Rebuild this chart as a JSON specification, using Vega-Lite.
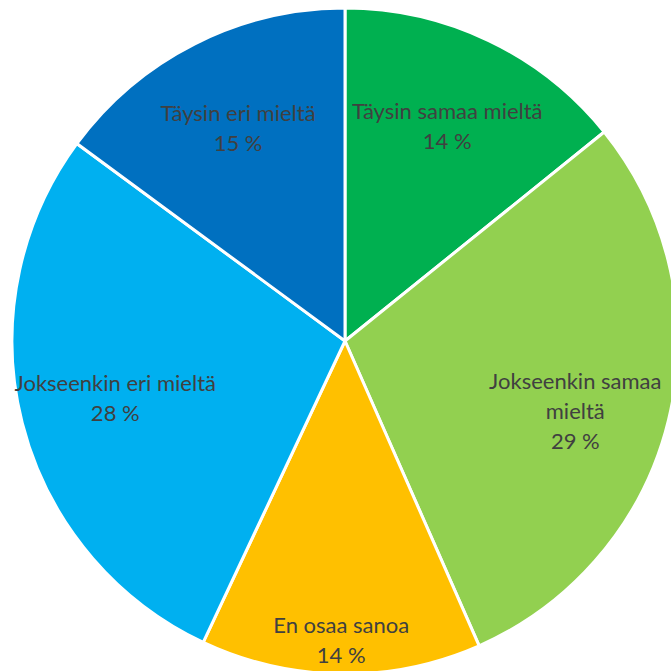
{
  "$schema": "https://vega.github.io/schema/vega-lite/v6.json",
  "width": 652,
  "height": 660,
  "autosize": "none",
  "padding": {"left": 19, "top": 11, "right": 0, "bottom": 0},
  "background": "white",
  "view": {"stroke": null},
  "data": {
    "values": [
      {"order": 1, "category": "Täysin samaa mieltä", "value": 14.2},
      {"order": 2, "category": "Jokseenkin samaa mieltä", "value": 29.2},
      {"order": 3, "category": "En osaa sanoa", "value": 13.6},
      {"order": 4, "category": "Jokseenkin eri mieltä", "value": 28.1},
      {"order": 5, "category": "Täysin eri mieltä", "value": 14.9}
    ]
  },
  "transform": [
    {"stack": "value", "groupby": [], "sort": [{"field": "order"}], "as": ["v0", "v1"]},
    {"calculate": "(datum.v0 + datum.v1) / 2", "as": "mid"},
    {"calculate": "datum.category == 'Jokseenkin samaa mieltä' ? ['Jokseenkin samaa', 'mieltä', format(datum.value, '.0f') + ' %'] : [datum.category, format(datum.value, '.0f') + ' %']", "as": "txt"}
  ],
  "layer": [
    {
      "mark": {"type": "arc", "outerRadius": 333, "stroke": "white", "strokeWidth": 3},
      "encoding": {
        "theta": {"field": "v0", "type": "quantitative", "scale": {"domain": [0, 100], "range": [0, 6.283185307]}},
        "theta2": {"field": "v1"},
        "color": {
          "field": "category",
          "type": "nominal",
          "scale": {
            "domain": ["Täysin samaa mieltä", "Jokseenkin samaa mieltä", "En osaa sanoa", "Jokseenkin eri mieltä", "Täysin eri mieltä"],
            "range": ["#00B050", "#92D050", "#FFC000", "#00B0F0", "#0070C0"]
          },
          "legend": null
        }
      }
    },
    {
      "transform": [{"filter": "datum.category != 'En osaa sanoa'"}],
      "mark": {"type": "text", "radius": 237, "font": "Lato", "fontSize": 22, "fill": "#404040", "lineHeight": 30, "align": "center", "baseline": "middle", "dy": -15},
      "encoding": {
        "theta": {"field": "mid", "type": "quantitative"},
        "text": {"field": "txt"}
      }
    },
    {
      "transform": [{"filter": "datum.category == 'En osaa sanoa'"}],
      "mark": {"type": "text", "radius": 300, "font": "Lato", "fontSize": 22, "fill": "#404040", "lineHeight": 30, "align": "center", "baseline": "middle", "dy": -15},
      "encoding": {
        "theta": {"field": "mid", "type": "quantitative"},
        "text": {"field": "txt"}
      }
    }
  ]
}
